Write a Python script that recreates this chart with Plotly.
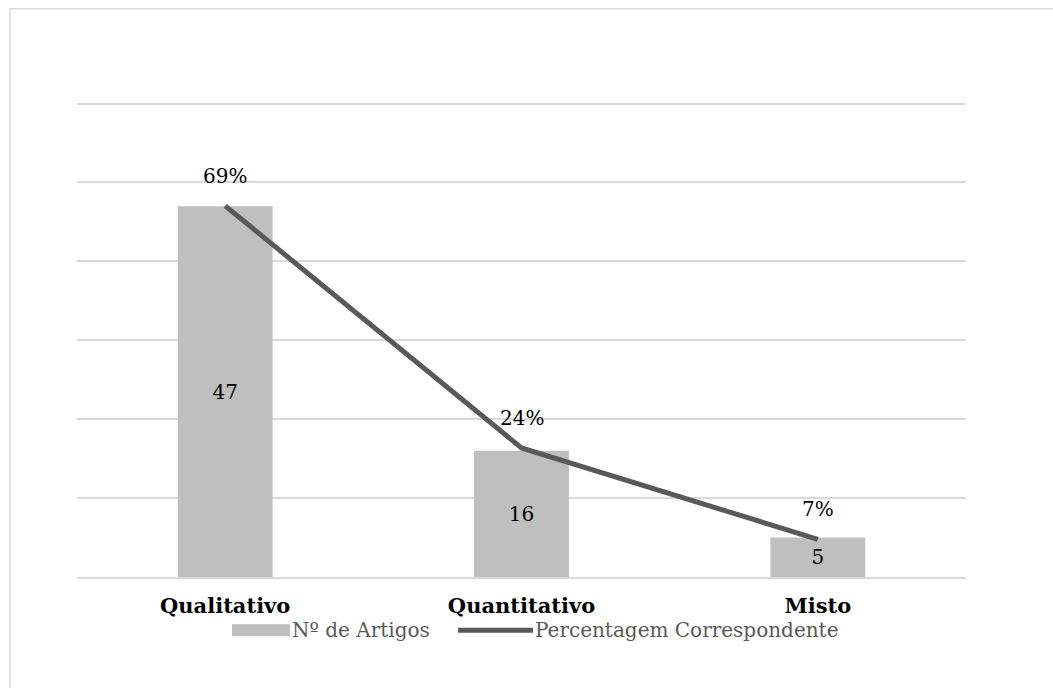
import plotly.graph_objects as go

# Research approach categories
categorias = ["Qualitativo", "Quantitativo", "Misto"]
n_artigos = [47, 16, 5]
percentagens = [69, 24, 7]
rotulos_pct = ["69%", "24%", "7%"]

serif = "DejaVu Serif"
cor_barra = "#bfbfbf"
cor_linha = "#595959"
cor_grelha = "#d9d9d9"

fig = go.Figure()

fig.add_trace(go.Bar(
    x=categorias, y=n_artigos, name="Nº de Artigos",
    marker=dict(color=cor_barra, line=dict(width=0)),
    text=[str(v) for v in n_artigos], textposition="inside",
    insidetextanchor="middle",
    textfont=dict(family=serif, size=20, color="#000000"),
    showlegend=False,
))

fig.add_trace(go.Scatter(
    x=categorias, y=percentagens, name="Percentagem Correspondente",
    mode="lines", yaxis="y2",
    line=dict(color=cor_linha, width=5),
    showlegend=False,
))

# percentage labels above the line points
for c, p, t in zip(categorias, percentagens, rotulos_pct):
    fig.add_annotation(x=c, y=p, yref="y2", text=t, showarrow=False,
                       yshift=30, font=dict(family=serif, size=20, color="#000000"))

# legend drawn by hand (wide bar swatch + line swatch)
ly = -0.112
fig.add_shape(type="rect", xref="paper", yref="paper",
              x0=(232 - 77) / 889, x1=(290 - 77) / 889,
              y0=ly - 6 / 474, y1=ly + 6 / 474,
              fillcolor=cor_barra, line=dict(width=0))
fig.add_annotation(xref="paper", yref="paper", x=(290 - 77) / 889, y=ly,
                   xanchor="left", yanchor="middle", showarrow=False,
                   text="Nº de Artigos", font=dict(family=serif, size=20, color="#595959"))
fig.add_shape(type="line", xref="paper", yref="paper",
              x0=(458 - 77) / 889, x1=(533 - 77) / 889, y0=ly, y1=ly,
              line=dict(color=cor_linha, width=5))
fig.add_annotation(xref="paper", yref="paper", x=(533 - 77) / 889, y=ly,
                   xanchor="left", yanchor="middle", showarrow=False,
                   text="Percentagem Correspondente",
                   font=dict(family=serif, size=20, color="#595959"))

# outer chart frame
fig.add_shape(type="rect", xref="paper", yref="paper",
              x0=(10 - 77) / 889, x1=1.2, y0=-0.5, y1=(577 - 10) / 474,
              line=dict(color=cor_grelha, width=1.5), fillcolor="rgba(0,0,0,0)",
              layer="below")

fig.update_layout(
    width=1053, height=688,
    margin=dict(l=77, r=87, t=102, b=111),
    paper_bgcolor="white", plot_bgcolor="white",
    bargap=0.68,
    xaxis=dict(
        showgrid=False, showline=True, linecolor=cor_grelha, linewidth=1.5,
        ticks="", ticklabelstandoff=9,
        tickfont=dict(family=serif, size=21, color="#000000", weight="bold"),
    ),
    yaxis=dict(
        range=[0, 60.2], tickvals=[10, 20, 30, 40, 50, 60], showgrid=True,
        gridcolor=cor_grelha, gridwidth=1.5,
        showticklabels=False, zeroline=False,
    ),
    yaxis2=dict(
        range=[0, 88.3], overlaying="y", side="right", showgrid=False,
        showticklabels=False, zeroline=False,
    ),
)

fig.write_html("out.html")
